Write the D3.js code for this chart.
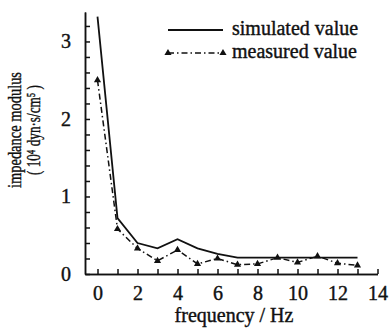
<!DOCTYPE html>
<html>
<head>
  <script src="https://cdn.jsdelivr.net/npm/d3@7"></script>
  <style>
    body { margin: 0; background: #fff; }
    .axis path, .axis line { stroke: #111; stroke-width: 1.5; }
  </style>
</head>
<body>
<script>
  // data
  const frequency = [0, 1, 2, 3, 4, 5, 6, 7, 8, 9, 10, 11, 12, 13]
  const simulated = [3.32, 0.72, 0.40, 0.33, 0.45, 0.33, 0.26, 0.21, 0.21, 0.21, 0.21, 0.21, 0.21, 0.21]
  const measured = [2.50, 0.58, 0.33, 0.17, 0.31, 0.13, 0.20, 0.12, 0.13, 0.21, 0.15, 0.23, 0.14, 0.11]
  const seriesNames = ['simulated value', 'measured value']
  const xMajor = [0, 2, 4, 6, 8, 10, 12, 14]
  const xMinor = [1, 3, 5, 7, 9, 11, 13]
  const yMajor = [0, 1, 2, 3]
  const yMinor = [0.2, 0.4, 0.6, 0.8, 1.2, 1.4, 1.6, 1.8, 2.2, 2.4, 2.6, 2.8, 3.2]

  const width = 389, height = 329
  const x = d3.scaleLinear().domain([-0.625, 14]).range([85, 377.5])
  const y = d3.scaleLinear().domain([0, 3.38]).range([274, 12])

  function serifText (sel, size) {
    return sel.attr('font-family', null)
      .style('font-family', '"Liberation Serif"')
      .style('font-size', size + 'px')
      .style('fill', '#111')
      .style('stroke', '#111')
      .style('stroke-width', '0.4px')
  }

  const svg = d3.select('body').append('svg')
    .attr('width', width)
    .attr('height', height)
    .style('font-family', '"Liberation Serif"')

  // axes, ticks point inward
  svg.append('g').attr('class', 'axis')
    .attr('transform', 'translate(0,' + y(0) + ')')
    .call(d3.axisBottom(x).tickValues(xMinor).tickSize(-5).tickSizeOuter(0).tickFormat(''))
  const xAxis = svg.append('g').attr('class', 'axis x-axis')
    .attr('transform', 'translate(0,' + y(0) + ')')
    .call(d3.axisBottom(x).tickValues(xMajor).tickSize(-5).tickSizeOuter(0).tickPadding(12).tickFormat(d3.format('d')))
    .attr('font-family', null)

  svg.append('g').attr('class', 'axis')
    .attr('transform', 'translate(' + x.range()[0] + ',0)')
    .call(d3.axisLeft(y).tickValues(yMinor).tickSize(-5).tickSizeOuter(0).tickFormat(''))
  const yAxis = svg.append('g').attr('class', 'axis y-axis')
    .attr('transform', 'translate(' + x.range()[0] + ',0)')
    .call(d3.axisLeft(y).tickValues(yMajor).tickSize(-5).tickSizeOuter(0).tickPadding(14).tickFormat(d3.format('d')))
    .attr('font-family', null)

  serifText(xAxis.selectAll('text'), 20)
  serifText(yAxis.selectAll('text'), 20)

  // lines
  const line = d3.line().x((d, i) => x(frequency[i])).y(d => y(d))

  svg.append('path')
    .datum(simulated)
    .attr('fill', 'none')
    .attr('stroke', '#111')
    .attr('stroke-width', 1.8)
    .attr('d', line)

  svg.append('path')
    .datum(measured)
    .attr('fill', 'none')
    .attr('stroke', '#111')
    .attr('stroke-width', 1.5)
    .attr('stroke-dasharray', '6,3,1.5,3')
    .attr('d', line)

  const tri = d3.symbol().type(d3.symbolTriangle).size(22)
  svg.selectAll('.marker')
    .data(measured)
    .enter().append('path')
    .attr('class', 'marker')
    .attr('fill', '#111')
    .attr('transform', (d, i) => 'translate(' + x(frequency[i]) + ',' + y(d) + ')')
    .attr('d', tri)

  // legend
  const legend = svg.append('g')
  seriesNames.forEach((name, i) => {
    const ly = 30 + i * 23
    legend.append('line')
      .attr('x1', 168).attr('x2', 223)
      .attr('y1', ly).attr('y2', ly)
      .attr('stroke', '#111')
      .attr('stroke-width', i === 0 ? 1.8 : 1.5)
      .attr('stroke-dasharray', i === 0 ? null : '6,3,1.5,3')
    if (i === 1) {
      [168, 223].forEach(px => {
        legend.append('path').attr('fill', '#111')
          .attr('transform', 'translate(' + px + ',' + ly + ')')
          .attr('d', tri)
      })
    }
    serifText(legend.append('text')
      .attr('x', 232).attr('y', ly + 5)
      .text(name), 20)
  })

  // axis titles
  serifText(svg.append('text')
    .attr('x', 234).attr('y', 322)
    .attr('text-anchor', 'middle')
    .text('frequency / Hz'), 20)

  serifText(svg.append('text')
    .attr('transform', 'translate(21,130) rotate(-90)')
    .attr('text-anchor', 'middle')
    .attr('textLength', 116)
    .attr('lengthAdjust', 'spacingAndGlyphs')
    .text('impedance modulus'), 19)

  serifText(svg.append('text')
    .attr('transform', 'translate(40,130) rotate(-90)')
    .attr('text-anchor', 'middle')
    .attr('textLength', 90)
    .attr('lengthAdjust', 'spacingAndGlyphs')
    .text('( 10\u2074 dyn\u00b7s/cm\u2075 )'), 19)
</script>
</body>
</html>
